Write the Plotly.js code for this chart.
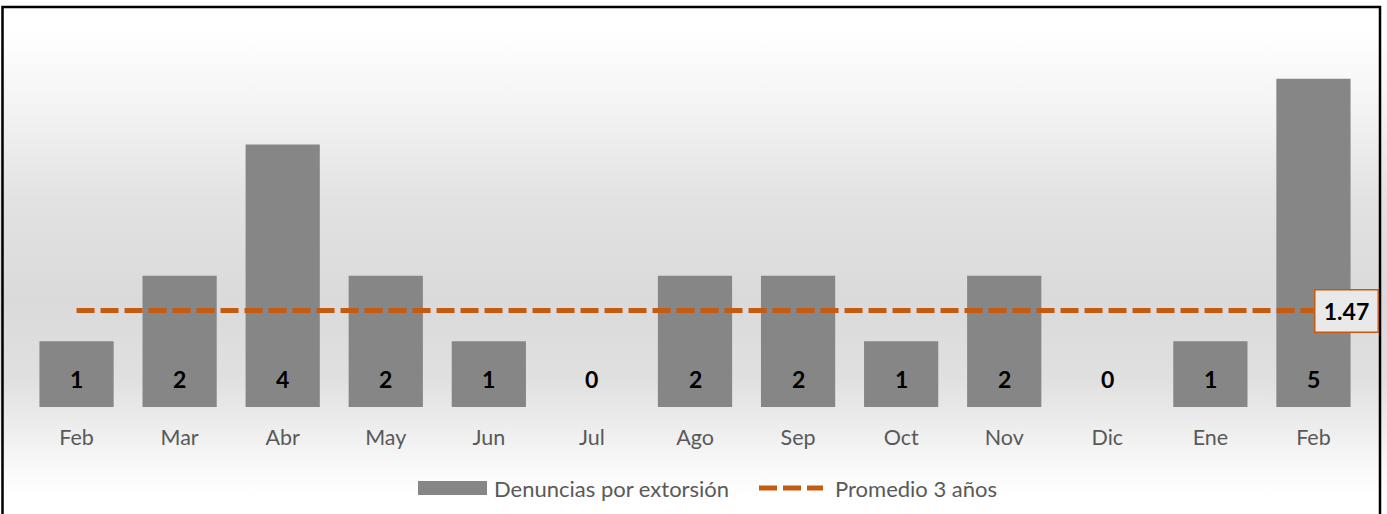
<!DOCTYPE html>
<html>
<head>
<meta charset="utf-8">
<script src="https://cdn.plot.ly/plotly-3.0.1.min.js"></script>
<style>
  html, body { margin: 0; padding: 0; background: #ffffff; }
  #chart {
    width: 1387px; height: 514px;
    background: linear-gradient(to bottom, #ffffff 0px, #ffffff 30px, #f3f3f3 110px, #e2e2e2 200px, #dadada 300px, #e0e0e0 380px, #eeeeee 430px, #fafafa 470px, #ffffff 500px);
  }
</style>
</head>
<body>
<div id="chart"></div>
<script>
// ---- data ----
const months = ["Feb", "Mar", "Abr", "May", "Jun", "Jul", "Ago", "Sep", "Oct", "Nov", "Dic", "Ene", "Feb"];
const denuncias = [1, 2, 4, 2, 1, 0, 2, 2, 1, 2, 0, 1, 5];
const promedioValor = 1.47;
const promedio = months.map(() => promedioValor);
const seriesNames = ["Denuncias por extorsión", "Promedio 3 años"];

// ---- layout geometry ----
const W = 1387, H = 514;
const M = { l: 25, r: 22, t: 46, b: 107 };
const PW = W - M.l - M.r, PH = H - M.t - M.b;
const fx = px => (px - M.l) / PW;          // pixel -> paper x
const fy = py => (H - M.b - py) / PH;      // pixel -> paper y

const idx = months.map((_, i) => i);
const barColor = "#868686";
const lineColor = "#C55A11";
const textFont = "Lato, 'Open Sans', sans-serif";

const traces = [
  {
    type: "bar",
    x: idx,
    y: denuncias,
    name: seriesNames[0],
    marker: { color: barColor },
    hoverinfo: "skip",
    showlegend: false
  },
  {
    type: "scatter",
    mode: "lines",
    x: idx,
    y: promedio,
    name: seriesNames[1],
    line: { color: lineColor, width: 5, dash: "18px,6px" },
    hoverinfo: "skip",
    showlegend: false
  }
];

const annotations = denuncias.map((v, i) => ({
  x: i, y: 0, xref: "x", yref: "y",
  text: String(v),
  showarrow: false,
  yanchor: "middle",
  yshift: 28,
  font: { family: textFont, size: 23, color: "#000000", weight: "bold" }
}));

annotations.push({
  x: idx[idx.length - 1], y: promedioValor, xref: "x", yref: "y",
  text: promedioValor.toFixed(2),
  showarrow: false,
  xanchor: "left", yanchor: "middle",
  xshift: 1,
  width: 60, height: 39,
  bgcolor: "#e9e9e9",
  bordercolor: lineColor, borderwidth: 1.5, borderpad: 1,
  font: { family: textFont, size: 23, color: "#000000", weight: "bold" }
});

// legend (manual)
annotations.push({
  x: fx(492), y: fy(488), xref: "paper", yref: "paper",
  text: seriesNames[0], showarrow: false, xanchor: "left", yanchor: "middle",
  font: { family: textFont, size: 22, color: "#595959" }
});
annotations.push({
  x: fx(833), y: fy(488), xref: "paper", yref: "paper",
  text: seriesNames[1], showarrow: false, xanchor: "left", yanchor: "middle",
  font: { family: textFont, size: 22, color: "#595959" }
});

const shapes = [
  // outer border
  { type: "rect", xref: "paper", yref: "paper",
    x0: fx(2.5), x1: fx(1380), y0: fy(520), y1: fy(7),
    line: { color: "#000000", width: 2.5 }, fillcolor: "rgba(0,0,0,0)", layer: "above" },
  // legend bar swatch
  { type: "rect", xref: "paper", yref: "paper",
    x0: fx(418), x1: fx(487), y0: fy(495), y1: fy(481),
    line: { width: 0 }, fillcolor: barColor },
  // legend line swatch
  { type: "line", xref: "paper", yref: "paper",
    x0: fx(759), x1: fx(823), y0: fy(488), y1: fy(488),
    line: { color: lineColor, width: 5, dash: "18px,6px" } }
];

const layout = {
  width: W, height: H,
  margin: M,
  paper_bgcolor: "rgba(0,0,0,0)",
  plot_bgcolor: "rgba(0,0,0,0)",
  bargap: 0.28,
  showlegend: false,
  xaxis: {
    type: "linear",
    range: [-0.5, months.length - 0.5],
    tickmode: "array",
    tickvals: idx,
    ticktext: months,
    showgrid: false, zeroline: false, showline: false, ticks: "",
    ticklabelstandoff: 15,
    tickfont: { family: textFont, size: 21.5, color: "#595959" },
    fixedrange: true
  },
  yaxis: {
    range: [0, 5.5],
    showgrid: false, zeroline: false, showline: false,
    showticklabels: false, ticks: "",
    fixedrange: true
  },
  annotations: annotations,
  shapes: shapes
};

Plotly.newPlot("chart", traces, layout, { displayModeBar: false, staticPlot: true });
</script>
</body>
</html>
